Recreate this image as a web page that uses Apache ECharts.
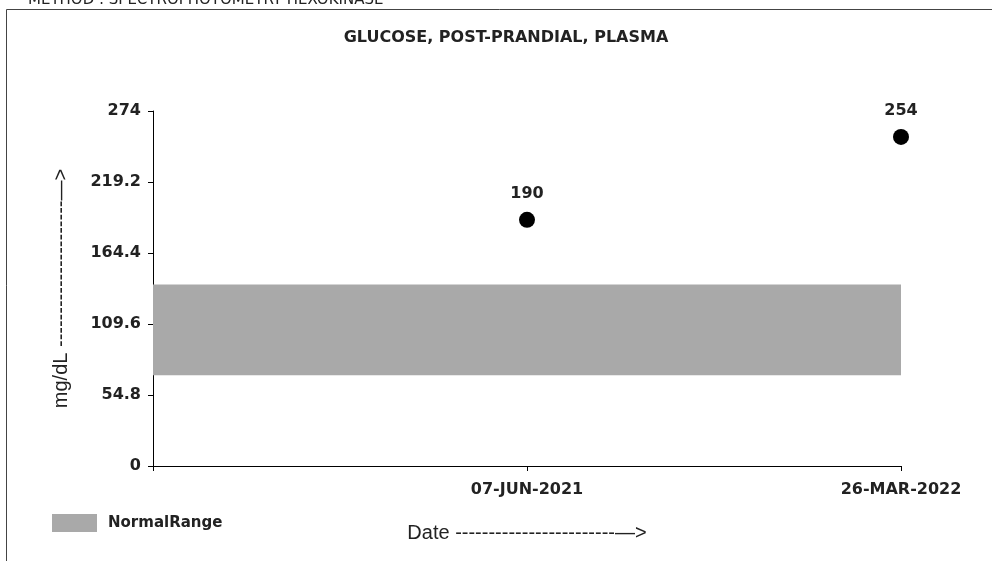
<!DOCTYPE html>
<html>
<head>
<meta charset="utf-8">
<script src="https://cdn.jsdelivr.net/npm/echarts@6/dist/echarts.min.js"></script>
<style>
    html, body { margin: 0; padding: 0; background: #fff; }
    #main { width: 992px; height: 561px; }
</style>
</head>
<body>
<div id="main"></div>
<script>
// 数据
const dates = ["07-JUN-2021", "26-MAR-2022"]
const values = [190, 254]
const normalRange = [70, 140]
const yMax = 274
const yStep = 54.8

const boldFont = "DejaVu Sans"
const narrowFont = "Liberation Sans Narrow, Liberation Sans, sans-serif"
const textColor = "#222"

const chart = echarts.init(document.getElementById("main"), null, { renderer: "canvas" })

const option = {
    animation: false,
    backgroundColor: "#fff",
    title: {
        text: "GLUCOSE, POST-PRANDIAL, PLASMA",
        left: 501,
        textAlign: "center",
        top: 25,
        textStyle: { fontFamily: boldFont, fontWeight: "bold", fontSize: 16, color: textColor },
    },
    graphic: [
        {
            type: "rect",
            shape: { x: 6.5, y: 9.5, width: 1000, height: 600 },
            style: { fill: "none", stroke: "#444", lineWidth: 1 },
        },
        {
            type: "text",
            left: 28,
            top: -7,
            style: { text: "METHOD : SPECTROPHOTOMETRY HEXOKINASE", font: "15px DejaVu Sans", fill: textColor },
        },
    ],
    legend: {
        left: 52,
        top: 514,
        padding: 0,
        icon: "rect",
        itemWidth: 45,
        itemHeight: 18,
        data: ["NormalRange"],
        textStyle: { fontFamily: boldFont, fontWeight: "bold", fontSize: 15, color: textColor, padding: [0, 0, 0, 6] },
    },
    grid: { left: 153, right: 91, top: 111, bottom: 95 },
    xAxis: {
        type: "category",
        boundaryGap: false,
        data: [""].concat(dates),
        name: "Date ------------------------—>",
        nameLocation: "middle",
        nameGap: 57,
        nameTextStyle: { fontFamily: narrowFont, fontSize: 20, color: textColor },
        axisLine: { lineStyle: { color: "#000", width: 1 } },
        axisTick: { length: 5, interval: 0, lineStyle: { color: "#000" } },
        axisLabel: { interval: 0, margin: 16, fontFamily: boldFont, fontWeight: "bold", fontSize: 16, color: textColor },
        splitLine: { show: false },
    },
    yAxis: {
        type: "value",
        min: 0,
        max: yMax,
        interval: yStep,
        name: "mg/dL ----------------------—>",
        nameLocation: "middle",
        nameRotate: 90,
        nameGap: 82,
        nameTextStyle: { fontFamily: narrowFont, fontSize: 20, color: textColor },
        axisLine: { show: true, lineStyle: { color: "#000", width: 1 } },
        axisTick: { show: true, length: 5, lineStyle: { color: "#000" } },
        axisLabel: {
            margin: 12,
            fontFamily: boldFont,
            fontWeight: "bold",
            fontSize: 16,
            color: textColor,
            formatter: (v) => String(+v.toFixed(1)),
        },
        splitLine: { show: false },
    },
    series: [
        {
            name: "NormalRange",
            type: "bar",
            data: [],
            itemStyle: { color: "#a9a9a9" },
        },
        {
            name: "Result",
            type: "scatter",
            symbol: "circle",
            symbolSize: 16,
            itemStyle: { color: "#000", opacity: 1 },
            data: values.map((v, i) => [dates[i], v]),
            label: {
                show: true,
                position: "top",
                distance: 10,
                fontFamily: boldFont,
                fontWeight: "bold",
                fontSize: 16,
                color: textColor,
            },
            markArea: {
                silent: true,
                itemStyle: { color: "#a9a9a9", opacity: 1 },
                data: [[{ yAxis: normalRange[0] }, { yAxis: normalRange[1] }]],
            },
            z: 3,
        },
    ],
}
chart.setOption(option)
</script>
</body>
</html>
